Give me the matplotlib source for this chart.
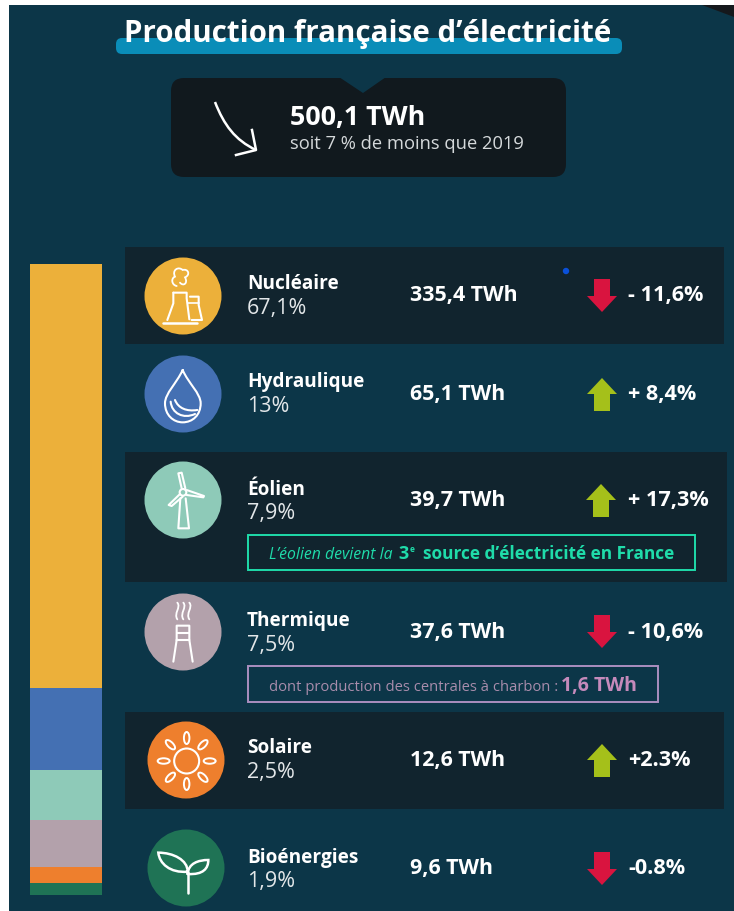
import numpy as np
import matplotlib
matplotlib.use('Agg')
import matplotlib.pyplot as plt
from matplotlib.patches import Circle, Ellipse, FancyBboxPatch, Polygon, Rectangle, PathPatch
from matplotlib.path import Path

# Chart data
names = ['Nucléaire', 'Hydraulique', 'Éolien', 'Thermique', 'Solaire', 'Bioénergies']
shares = [67.1, 13, 7.9, 7.5, 2.5, 1.9]
share_labels = ['67,1%', '13%', '7,9%', '7,5%', '2,5%', '1,9%']
twh_labels = ['335,4 TWh', '65,1 TWh', '39,7 TWh', '37,6 TWh', '12,6 TWh', '9,6 TWh']
changes = [-11.6, 8.4, 17.3, -10.6, 2.3, -0.8]
change_labels = ['- 11,6%', '+ 8,4%', '+ 17,3%', '- 10,6%', '+2.3%', '-0.8%']
colors = ['#ecb03a', '#4470b3', '#8ecab8', '#b3a1ab', '#ee7f2d', '#1f7355']

# Layout, in pixels of the reference
W, H = 734, 911
BG = '#0c3648'
ROW = '#11242e'
circle_xy = [(183, 296), (183, 394), (183, 500), (183, 632), (186, 760), (186, 868)]
name_y = [289, 387, 495, 626, 753, 863]
share_y = [314, 412, 519, 651, 778, 887]
value_y = [301, 400, 506, 638, 766, 874]
arrow_y = [295.5, 394.5, 500.5, 631.5, 760.5, 868.5]
arrow_x = [602, 602, 601, 602, 602, 602]

plt.rcParams['font.family'] = ['Open Sans', 'DejaVu Sans']

fig = plt.figure(figsize=(W / 100, H / 100), dpi=100, facecolor='white')
ax = fig.add_axes([0, 0, 1, 1])
ax.set_xlim(0, W)
ax.set_ylim(H, 0)
ax.axis('off')

ax.add_patch(Rectangle((9, 5), W - 9, H - 5, color=BG, lw=0))
ax.add_patch(Polygon([(702, 5), (734, 5), (734, 17)], color='#15181c', lw=0))

# Title
ax.add_patch(FancyBboxPatch((116, 38), 506, 16, boxstyle='round,pad=0,rounding_size=6',
                            color='#0a8db8', lw=0))
ax.text(368, 42, 'Production française d’électricité', color='white', fontsize=21.25,
        fontweight='bold', ha='center', va='baseline')

# Total box
ax.add_patch(FancyBboxPatch((171, 78), 395, 99, boxstyle='round,pad=0,rounding_size=13',
                            color='#11191e', lw=0))
ax.add_patch(Polygon([(339, 77), (386, 77), (363, 93)], color=BG, lw=0))
ax.text(290, 125, '500,1 TWh', color='white', fontsize=19.4, fontweight='bold')
ax.text(290, 149, 'soit 7 % de moins que 2019', color='#d5d9db', fontsize=13.2)
ax.add_patch(PathPatch(Path([(215, 102), (224, 125), (235, 140), (256, 150)],
                            [Path.MOVETO, Path.CURVE4, Path.CURVE4, Path.CURVE4]),
                       fc='none', ec='white', lw=1.8))
ax.plot([252, 256, 236], [130, 150, 155], color='white', lw=1.8)

# Row bands
ax.add_patch(Rectangle((125, 247), 599, 97, color=ROW, lw=0))
ax.add_patch(Rectangle((125, 452), 602, 130, color=ROW, lw=0))
ax.add_patch(Rectangle((125, 712), 599, 97, color=ROW, lw=0))

# Stacked bar, in its own axes so the values set the heights
bar_ax = fig.add_axes([30 / W, 1 - 895 / H, 72 / W, 631 / H])
bar_ax.set_xlim(0, 1)
bar_ax.set_ylim(sum(shares), 0)
bar_ax.axis('off')
bar_ax.bar([0.5] * len(shares), shares, width=1, bottom=np.cumsum([0] + shares[:-1]),
           color=colors, linewidth=0)


def line(pts, oy, lw=1.5):
    # points come from the 3x zoom of the reference
    p = np.array(pts, dtype=float)
    ax.plot(p[:, 0] / 3, oy + p[:, 1] / 3, color='white', lw=lw, solid_capstyle='round',
            solid_joinstyle='round', zorder=5)


def curve(pts, oy, lw=1.5):
    p = np.array(pts, dtype=float)
    p = np.column_stack([p[:, 0] / 3, oy + p[:, 1] / 3])
    codes = [Path.MOVETO] + [Path.CURVE4] * (len(p) - 1)
    ax.add_patch(PathPatch(Path(p, codes), fc='none', ec='white', lw=lw, zorder=5, capstyle='round'))


# Circles with icons
for xy, col in zip(circle_xy, colors):
    ax.add_patch(Circle(xy, 38.5, color=col, lw=0))

# nuclear
curve([(530, 138), (515, 135), (512, 115), (525, 110), (515, 90), (535, 78), (548, 90),
       (565, 85), (572, 105), (555, 112), (565, 130), (550, 140), (540, 128)], 240, 1.3)
line([(520, 158), (560, 158), (560, 175), (568, 238)], 240)
line([(520, 158), (520, 190), (502, 240)], 240)
line([(570, 170), (596, 170), (596, 195), (606, 240), (575, 240)], 240)
line([(565, 190), (596, 190)], 240, 1.2)
line([(488, 250), (590, 250)], 240, 1.8)

# drop
curve([(548, 390), (530, 430), (495, 460), (495, 490), (495, 525), (520, 547), (548, 547),
       (578, 547), (602, 525), (602, 490), (602, 460), (565, 430), (548, 390)], 240)
curve([(512, 485), (515, 520), (550, 538), (585, 522)], 240)
curve([(525, 480), (535, 505), (560, 515), (592, 510)], 240)

# wind turbine
ax.add_patch(Circle((549 / 3, 240 + 757 / 3), 10 / 3, fc='none', ec='white', lw=1.5, zorder=5))
line([(545, 745), (535, 700), (545, 698), (556, 745)], 240)
line([(560, 750), (612, 768), (610, 772), (560, 765)], 240)
line([(540, 762), (506, 795), (515, 798), (548, 770)], 240)
line([(541, 775), (535, 865), (567, 865), (557, 775)], 240)

# chimney
for sx in [532, 550, 568]:
    curve([(sx, 98), (sx + 12, 112), (sx - 12, 130), (sx, 148)], 570, 1.3)
line([(530, 210), (530, 167), (568, 167), (568, 210), (530, 210), (520, 275)], 570)
line([(568, 210), (578, 275)], 570)
line([(530, 188), (568, 188)], 570)

# sun
sx, sy = 560 / 3, 570 + 573 / 3
ax.add_patch(Circle((sx, sy), 12.5, fc='none', ec='white', lw=1.5, zorder=5))
for a in np.arange(0, 360, 45):
    t = np.deg2rad(a)
    ax.add_patch(Ellipse((sx + 23 * np.cos(t), sy + 23 * np.sin(t)), 12, 5.5, angle=a,
                         fc='none', ec='white', lw=1.4, zorder=5))

# sprout
line([(563, 970), (563, 905)], 570, 1.8)
curve([(563, 905), (563, 870), (520, 848), (475, 848), (478, 880), (510, 910), (563, 905)], 570, 1.8)
curve([(563, 912), (610, 915), (625, 895), (625, 870), (595, 870), (565, 880), (563, 912)], 570, 1.8)

# Row texts
for i, name in enumerate(names):
    ax.text(247, name_y[i], name, color='white', fontsize=13.65, fontweight='bold')
    ax.text(247, share_y[i], share_labels[i], color='#e3e7e9', fontsize=15.5)
    ax.text(410, value_y[i], twh_labels[i], color='white', fontsize=15.4, fontweight='bold')
    ax.text(628, value_y[i], change_labels[i], color='white', fontsize=15.6, fontweight='bold')
    # arrow direction comes from the sign of the change
    d = -1 if changes[i] > 0 else 1
    x, y = arrow_x[i], arrow_y[i]
    ax.add_patch(Polygon([(x - 8, y - 16.5 * d), (x + 8, y - 16.5 * d), (x + 8, y + 0.5 * d),
                          (x + 15, y + 0.5 * d), (x, y + 16.5 * d), (x - 15, y + 0.5 * d), (x - 8, y + 0.5 * d)],
                         color='#a5c01a' if changes[i] > 0 else '#d9143f', lw=0))

ax.add_patch(Circle((566, 271), 3.2, color='#0a50d8', lw=0))

# Callouts
TEAL = '#1fdcaa'
ax.add_patch(Rectangle((247.5, 535), 447, 35, fc='none', ec=TEAL, lw=1.4))
ax.text(269, 559, 'L’éolien devient la', color=TEAL, fontsize=11.3, fontstyle='italic')
ax.text(398, 559, '3', color=TEAL, fontsize=13, fontweight='bold')
ax.text(410, 552, 'e', color=TEAL, fontsize=6, fontweight='bold')
ax.text(423, 559, 'source d’électricité en France', color=TEAL, fontsize=12.45, fontweight='bold')

PINK = '#c58abb'
ax.add_patch(Rectangle((247.5, 666), 410, 36, fc='none', ec='#ab8fc0', lw=1.4))
ax.text(269, 691, 'dont production des centrales à charbon :', color='#a98dac', fontsize=10.65)
ax.text(561, 691, '1,6 TWh', color=PINK, fontsize=14, fontweight='bold')

fig.savefig('out.png', dpi=100, facecolor='white')
